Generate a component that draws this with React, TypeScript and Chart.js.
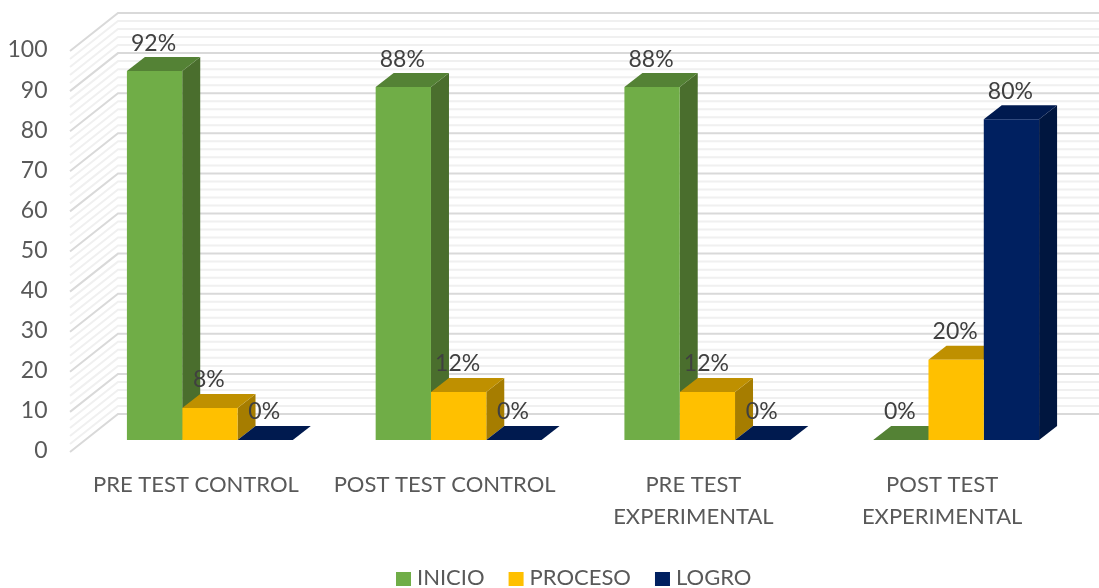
import React, { useEffect, useRef } from "react";
import { Chart, registerables } from "chart.js";

Chart.register(...registerables);

const categories: (string | string[])[] = [
  "PRE TEST CONTROL",
  "POST TEST CONTROL",
  ["PRE TEST", "EXPERIMENTAL"],
  ["POST TEST", "EXPERIMENTAL"],
];
const inicio = [92, 88, 88, 0];
const proceso = [8, 12, 12, 20];
const logro = [0, 0, 0, 80];

const seriesNames = ["INICIO", "PROCESO", "LOGRO"];
const frontColors = ["#70AD47", "#FFC000", "#002060"];
const topColors = ["#548235", "#BF9000", "#001A4F"];
const sideColors = ["#4A6E2D", "#A67D00", "#00163F"];

const TEXT = "#595959";
const FONT = "Lato, Carlito, sans-serif";

const BAR_DX = 18;
const BAR_DY = 14;
const WALL_LEFT = 70;
const WALL_BACK = 118;
const WALL_FRONT_DY = 12;
const WALL_BACK_DY = 26;

const poly = (ctx: CanvasRenderingContext2D, pts: number[][], fill: string) => {
  ctx.beginPath();
  pts.forEach(([x, y], i) => (i ? ctx.lineTo(x, y) : ctx.moveTo(x, y)));
  ctx.closePath();
  ctx.fillStyle = fill;
  ctx.fill();
};

const walls = {
  id: "walls",
  beforeDatasetsDraw(chart: any) {
    const { ctx, width } = chart;
    const y = chart.scales.y;
    ctx.save();
    for (let step = 1; step >= 0; step--) {
      for (let v = 0; v <= 100; v += 2) {
        const major = v % 10 === 0;
        if (major !== (step === 0)) continue;
        const p = y.getPixelForValue(v);
        ctx.strokeStyle = major ? "#D9D9D9" : "#F0F0F0";
        ctx.lineWidth = 2;
        ctx.beginPath();
        ctx.moveTo(WALL_LEFT, p + WALL_FRONT_DY);
        ctx.lineTo(WALL_BACK, p - WALL_BACK_DY);
        ctx.lineTo(width, p - WALL_BACK_DY);
        ctx.stroke();
      }
    }
    ctx.restore();
  },
};

const bars3d = {
  id: "bars3d",
  beforeDatasetsDraw(chart: any) {
    const { ctx } = chart;
    ctx.save();
    chart.data.datasets.forEach((_: any, ds: number) => {
      chart.getDatasetMeta(ds).data.forEach((bar: any) => {
        const { x, y, base, width } = bar.getProps(["x", "y", "base", "width"], true);
        const l = x - width / 2;
        const r = x + width / 2;
        poly(ctx, [[r, y], [r + BAR_DX, y - BAR_DY], [r + BAR_DX, base - BAR_DY], [r, base]], sideColors[ds]);
        poly(ctx, [[l, y], [l + BAR_DX, y - BAR_DY], [r + BAR_DX, y - BAR_DY], [r, y]], topColors[ds]);
      });
    });
    ctx.restore();
  },
  afterDatasetsDraw(chart: any) {
    const { ctx } = chart;
    ctx.save();
    ctx.font = `23px ${FONT}`;
    ctx.fillStyle = "#404040";
    ctx.textAlign = "center";
    ctx.textBaseline = "middle";
    chart.data.datasets.forEach((d: any, ds: number) => {
      chart.getDatasetMeta(ds).data.forEach((bar: any, i: number) => {
        const { x, y } = bar.getProps(["x", "y"], true);
        ctx.fillText(`${d.data[i]}%`, x - 1, y - 28);
      });
    });
    ctx.restore();
  },
};

const legend3d = {
  id: "legend3d",
  afterDraw(chart: any) {
    const { ctx } = chart;
    ctx.save();
    ctx.font = `22px ${FONT}`;
    ctx.textBaseline = "middle";
    ctx.textAlign = "left";
    let x = 396;
    chart.data.datasets.forEach((d: any) => {
      ctx.fillStyle = d.backgroundColor;
      ctx.fillRect(x, 572, 15, 14);
      ctx.fillStyle = TEXT;
      ctx.fillText(d.label, x + 21, 578);
      x += 21 + ctx.measureText(d.label).width + 24;
    });
    ctx.restore();
  },
};

export default function App() {
  const ref = useRef<HTMLCanvasElement>(null);
  useEffect(() => {
    const chart = new Chart(ref.current!, {
      type: "bar",
      data: {
        labels: categories as any,
        datasets: [inicio, proceso, logro].map((data, i) => ({
          label: seriesNames[i],
          data,
          backgroundColor: frontColors[i],
          borderWidth: 0,
          barPercentage: 1,
          categoryPercentage: 0.667,
        })),
      },
      options: {
        responsive: false,
        animation: false,
        layout: { padding: { top: 39, right: 18.5, left: 0, bottom: 0 } },
        plugins: {
          tooltip: { enabled: false },
          title: { display: false },
          legend: { display: false },
        },
        scales: {
          x: {
            grid: { display: false },
            border: { display: false },
            ticks: {
              color: TEXT,
              padding: 21,
              labelOffset: -14,
              maxRotation: 0,
              autoSkip: false,
              font: { family: FONT, size: 22, lineHeight: 1.45 },
            },
            afterFit(s: any) {
              s.height = 148;
              s.paddingLeft = 0;
              s.paddingRight = 0;
            },
          },
          y: {
            min: 0,
            max: 100,
            grid: { display: false },
            border: { display: false },
            ticks: {
              stepSize: 10,
              color: TEXT,
              padding: 30,
              labelOffset: 11,
              font: { family: FONT, size: 23 },
            },
            afterFit(s: any) {
              s.width = 85.5;
              s.paddingTop = 0;
              s.paddingBottom = 0;
            },
          },
        },
      },
      plugins: [walls, bars3d, legend3d],
    } as any);
    return () => chart.destroy();
  }, []);
  return (
    <canvas
      ref={ref}
      width={1099}
      height={588}
      style={{ position: "absolute", left: 0, top: 0, display: "block" }}
    />
  );
}
